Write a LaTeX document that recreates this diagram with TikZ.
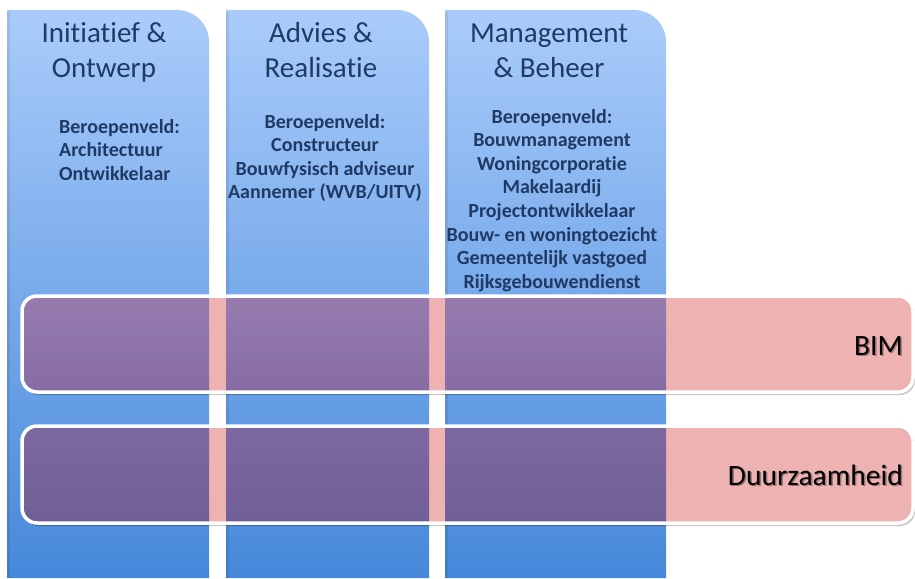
\documentclass[tikz,border=0pt]{standalone}
\usepackage{fontspec}
\setmainfont{Carlito}[RawFeature={-liga;-clig;-calt;-dlig}]
\definecolor{ink}{RGB}{31,58,100}
\definecolor{coltop}{RGB}{170,204,251}
\definecolor{colbot}{RGB}{70,136,218}
\definecolor{bandpink}{RGB}{238,178,178}
\definecolor{pAtop}{RGB}{150,124,174}
\definecolor{pAbot}{RGB}{134,108,164}
\definecolor{pBtop}{RGB}{126,104,160}
\definecolor{pBbot}{RGB}{112,95,150}
\newcommand{\cstack}[1]{\begin{tabular}[t]{@{}c@{}}#1\end{tabular}}
\newcommand{\lstack}[1]{\begin{tabular}[t]{@{}l@{}}#1\end{tabular}}
\newcommand{\colpath}[2]{(#1,578) -- (#1,10) -- ({#2-32},10) .. controls ({#2-14.3},10) and (#2,24.3) .. (#2,42) -- (#2,578) -- cycle}
\tikzset{
  coltitle/.style={inner sep=0pt, text=ink, font=\fontsize{29}{35}\selectfont},
  collist/.style={inner sep=0pt, text=ink, font=\fontsize{20}{23.6}\selectfont\bfseries},
  bandlabel/.style={inner sep=0pt, text=black, font=\fontsize{29.5}{34}\selectfont},
  bandshadow/.style={inner sep=0pt, text=black, opacity=0.35, font=\fontsize{29.5}{34}\selectfont},
  bandborder/.style={draw=white, line width=3.5pt, rounded corners=15pt},
}
\begin{document}
\begin{tikzpicture}[x=1pt,y=-1pt]
\useasboundingbox (0,0) rectangle (915,578);
\fill[white] (0,0) rectangle (915,578);
% columns
\shade[top color=coltop, bottom color=colbot] \colpath{7}{209};
\shade[top color=coltop, bottom color=colbot] \colpath{226}{429};
\shade[top color=coltop, bottom color=colbot] \colpath{445}{666};
\foreach \xl in {7,226,445} {
  \fill[black, opacity=0.08] (\xl,12) rectangle (\xl+3,578);
}
% band A
\fill[black, opacity=0.22, rounded corners=15pt] (24,299) rectangle (915,395);
\fill[bandpink, rounded corners=15pt] (22,296) rectangle (913,392);
\begin{scope}
  \clip[rounded corners=15pt] (22,296) rectangle (913,392);
  \shade[top color=pAtop, bottom color=pAbot] (7,296) rectangle (209,392);
  \shade[top color=pAtop, bottom color=pAbot] (226,296) rectangle (429,392);
  \shade[top color=pAtop, bottom color=pAbot] (445,296) rectangle (666,392);
\end{scope}
\draw[bandborder] (22,296) rectangle (913,392);
% band B
\fill[black, opacity=0.22, rounded corners=15pt] (24,429) rectangle (915,526);
\fill[bandpink, rounded corners=15pt] (22,426) rectangle (913,523);
\begin{scope}
  \clip[rounded corners=15pt] (22,426) rectangle (913,523);
  \shade[top color=pBtop, bottom color=pBbot] (7,426) rectangle (209,523);
  \shade[top color=pBtop, bottom color=pBbot] (226,426) rectangle (429,523);
  \shade[top color=pBtop, bottom color=pBbot] (445,426) rectangle (666,523);
\end{scope}
\draw[bandborder] (22,426) rectangle (913,523);
% titles
\node[coltitle, anchor=base] (t1) at (104,43) {\cstack{Initiatief \&\\Ontwerp}};
\node[coltitle, anchor=base] (t2) at (321,43) {\cstack{Advies \&\\Realisatie}};
\node[coltitle, anchor=base] (t3) at (549,43) {\cstack{Management\\\& Beheer}};
% lists
\node[collist, anchor=base west] (l1) at (59,133) {\lstack{Beroepenveld:\\Architectuur\\Ontwikkelaar}};
\node[collist, anchor=base] (l2) at (325,128) {\cstack{Beroepenveld:\\Constructeur\\Bouwfysisch adviseur\\Aannemer (WVB/UITV)}};
\node[collist, anchor=base] (l3) at (552,123) {\cstack{Beroepenveld:\\Bouwmanagement\\Woningcorporatie\\Makelaardij\\Projectontwikkelaar\\Bouw- en woningtoezicht\\Gemeentelijk vastgoed\\Rijksgebouwendienst}};
% band labels
\node[bandshadow, anchor=base east] (bimS) at (904.5,356.5) {BIM};
\node[bandlabel, anchor=base east] (bim) at (903,355) {BIM};
\node[bandshadow, anchor=base east] (duS) at (904.5,486.5) {Duurzaamheid};
\node[bandlabel, anchor=base east] (du) at (903,485) {Duurzaamheid};
\end{tikzpicture}
\end{document}
